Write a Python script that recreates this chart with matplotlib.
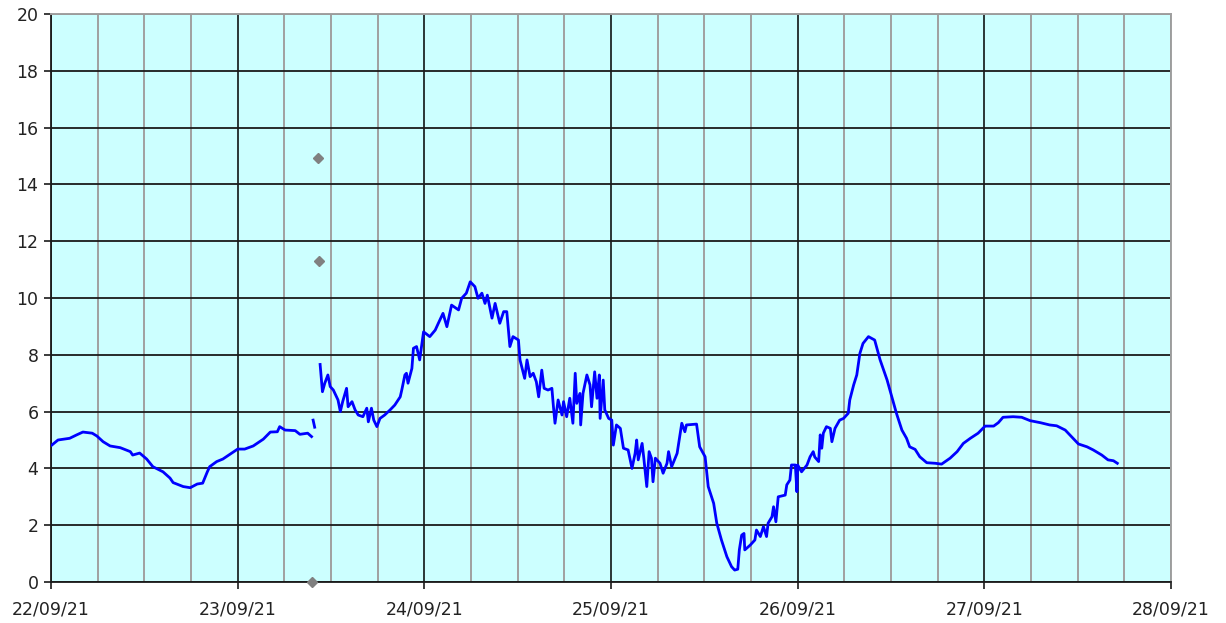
import numpy as np
import matplotlib
matplotlib.use("Agg")
import matplotlib.pyplot as plt
import matplotlib.dates as mdates
from datetime import datetime, timedelta

start = datetime(2021, 9, 22)

# hours since 22/09/21 00:00 and values (NaN = gap)
hours = [0.1, 0.9, 2.4, 3.3, 4.1, 5.3, 5.9, 6.7, 7.6, 8.9, 10.2, 10.5, 11.4, 12.3, 13.1,
         14.4, 15.3, 15.7, 17.0, 17.9, 18.8, 19.5, 20.1, 20.4, 21.3, 22.1, 23.3, 24.0,
         24.9, 26.0, 27.3, 28.2, 29.1, 29.4, 30.1, 31.4, 32.0, 33.0, 33.5,
         33.6,
         33.7, 33.9,
         34.2,
         34.6, 34.9, 35.2, 35.6, 35.9, 36.3, 36.9, 37.2, 37.5, 38.0, 38.2, 38.7, 39.1,
         39.5, 40.1, 40.6, 40.8, 41.2, 41.5, 41.9, 42.3, 42.9, 43.6, 44.2, 44.9, 45.1,
         45.5, 45.7, 45.9, 46.4, 46.6, 47.0, 47.4, 47.9, 48.7, 49.4, 49.8, 50.4, 50.9,
         51.5, 52.4, 52.8, 53.4, 53.9, 54.5, 54.9, 55.4, 55.8, 56.1, 56.7, 57.1, 57.7,
         58.2, 58.6, 59.0, 59.4, 60.1, 60.3, 60.9, 61.2, 61.6, 62.0, 62.4, 62.7, 63.1,
         63.4, 63.9, 64.4, 64.6, 64.8, 65.2, 65.7, 65.9, 66.3, 66.7, 67.1, 67.4, 67.6,
         68.0, 68.1, 68.4, 68.9, 69.3, 69.5, 69.9, 70.2, 70.5, 70.6, 71.0, 71.2, 71.7,
         72.1, 72.3, 72.7, 73.2, 73.6, 74.2, 74.7, 75.1, 75.3, 75.5, 76.0, 76.2, 76.6,
         76.9, 77.2, 77.4, 77.7, 78.3, 78.7, 79.2, 79.4, 79.8, 80.5, 80.7, 81.1, 81.5,
         81.7, 83.0, 83.4, 84.1, 84.5, 85.2, 85.6, 86.2, 86.9, 87.5, 87.9, 88.3, 88.5,
         88.8, 89.1, 89.2, 89.9, 90.5, 90.7, 91.2, 91.6, 92.0, 92.2, 92.7, 92.9, 93.2,
         93.5, 94.4, 94.6, 95.0, 95.2, 95.7, 95.9, 96.0, 96.5, 97.2, 97.6, 98.0, 98.2,
         98.7, 98.9, 99.1, 99.3, 99.7, 100.2, 100.4, 100.8, 101.4, 101.9, 102.5, 102.7,
         103.2, 103.6, 104.0, 104.4, 105.1, 105.9, 106.6, 107.5, 108.1, 108.7, 109.4,
         110.0, 110.4, 111.1, 111.7, 112.6, 113.7, 114.5, 115.6, 116.5, 117.3, 118.2,
         119.2, 120.1, 121.2, 121.8, 122.4, 123.7, 124.8, 125.9, 127.2, 128.4, 129.3,
         130.4, 131.2, 132.1, 133.2, 134.0, 135.1, 135.9, 136.6, 137.1]

values = [4.82, 5.0, 5.06, 5.18, 5.28, 5.24, 5.14, 4.94, 4.79, 4.73, 4.59, 4.47, 4.54, 4.33, 4.06,
          3.88, 3.66, 3.50, 3.36, 3.32, 3.45, 3.48, 3.88, 4.06, 4.24, 4.33, 4.55, 4.68,
          4.68, 4.79, 5.03, 5.28, 5.29, 5.47, 5.35, 5.33, 5.20, 5.24, 5.12,
          np.nan,
          5.70, 5.45,
          np.nan,
          7.66, 6.70, 7.0, 7.29, 6.88, 6.76, 6.41, 6.0, 6.35, 6.82, 6.17, 6.35, 6.06,
          5.88, 5.82, 6.12, 5.64, 6.12, 5.70, 5.47, 5.76, 5.88, 6.06, 6.23, 6.52, 6.76,
          7.29, 7.35, 7.0, 7.52, 8.23, 8.29, 7.82, 8.81, 8.64, 8.87, 9.11, 9.46, 8.99,
          9.75, 9.58, 9.99, 10.17, 10.57, 10.40, 9.99, 10.17, 9.81, 10.1, 9.29, 9.81, 9.11,
          9.52, 9.52, 8.29, 8.64, 8.52, 7.82, 7.17, 7.82, 7.23, 7.35, 7.05, 6.52, 7.46,
          6.82, 6.76, 6.82, 6.17, 5.59, 6.41, 5.88, 6.35, 5.82, 6.47, 5.59, 7.35, 6.29,
          6.64, 5.53, 6.64, 7.29, 6.94, 6.17, 7.40, 6.47, 7.29, 5.76, 7.11, 6.06, 5.76,
          5.70, 4.82, 5.53, 5.41, 4.71, 4.65, 4.0, 4.53, 5.0, 4.30, 4.88, 4.41, 3.36,
          4.59, 4.36, 3.53, 4.36, 4.18, 3.83, 4.18, 4.59, 4.06, 4.53, 4.88, 5.59, 5.29,
          5.53, 5.56, 4.76, 4.41, 3.36, 2.77, 2.07, 1.48, 0.89, 0.54, 0.42, 0.45, 1.13,
          1.65, 1.71, 1.13, 1.30, 1.48, 1.83, 1.60, 1.95, 1.60, 2.07, 2.30, 2.65, 2.12,
          3.0, 3.06, 3.42, 3.59, 4.12, 4.12, 3.18, 4.12, 3.88, 4.12, 4.41, 4.59, 4.4,
          4.24, 5.18, 4.71, 5.24, 5.47, 5.41, 4.94, 5.41, 5.70, 5.76, 5.94, 6.41,
          6.94, 7.29, 8.05, 8.40, 8.64, 8.52, 7.82, 7.11, 6.52, 5.94, 5.35,
          5.06, 4.76, 4.67, 4.41, 4.20, 4.18, 4.15, 4.36, 4.59, 4.88, 5.06,
          5.24, 5.49, 5.49, 5.61, 5.80, 5.82, 5.80, 5.68, 5.61, 5.53, 5.50,
          5.35, 5.12, 4.86, 4.76, 4.65, 4.47, 4.30, 4.27, 4.18]

marker_hours = [33.6, 34.3, 34.5]
marker_values = [0.0, 14.92, 11.30]

times = [start + timedelta(hours=h) for h in hours]
mtimes = [start + timedelta(hours=h) for h in marker_hours]

fig = plt.figure(figsize=(12.26, 6.23), dpi=100)
ax = fig.add_axes([51/1226, 41/623, 1120/1226, 568/623])
ax.set_facecolor("#CCFFFF")

ax.set_xlim(start, start + timedelta(days=6))
ax.set_ylim(0, 20)

ax.xaxis.set_major_locator(mdates.DayLocator())
ax.xaxis.set_major_formatter(mdates.DateFormatter("%d/%m/%y"))
ax.xaxis.set_minor_locator(mdates.HourLocator(byhour=[6, 12, 18]))
ax.set_yticks(np.arange(0, 21, 2))

ax.grid(True, which="major", axis="x", color="black", linewidth=1.1)
ax.grid(True, which="minor", axis="x", color="#A0A0A0", linewidth=1.4)
ax.grid(True, which="major", axis="y", color="#1a1a1a", linewidth=1.3)
ax.set_axisbelow(True)

ax.plot(times, values, color="#0000FF", linewidth=2.0, zorder=3)
ax.plot(mtimes, marker_values, linestyle="none", marker="D", markersize=5,
        color="#808080", zorder=4, clip_on=False)

for s in ["top", "right"]:
    ax.spines[s].set_color("#A0A0A0")
    ax.spines[s].set_linewidth(1.4)
for s in ["left", "bottom"]:
    ax.spines[s].set_color("#1a1a1a")
    ax.spines[s].set_linewidth(1.3)

ax.tick_params(axis="both", which="major", direction="out", length=5, width=1.2,
               color="#1a1a1a", labelsize=12.5, labelcolor="#222222", pad=4)
ax.tick_params(axis="x", which="minor", length=0)
ax.tick_params(axis="x", which="major", pad=8)

fig.savefig("out.png", dpi=100)
